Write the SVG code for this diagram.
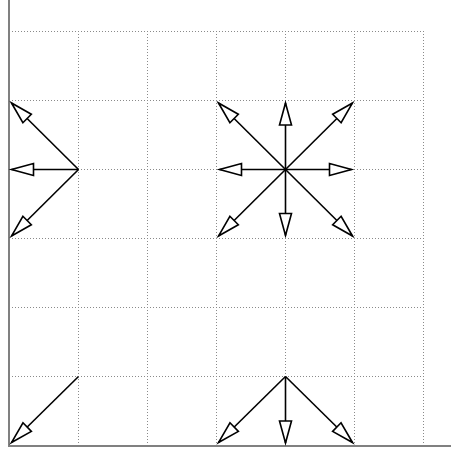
<svg xmlns="http://www.w3.org/2000/svg" width="451" height="452" viewBox="0 0 451 452">
<style>
.grid{stroke:#8a8a8a;stroke-width:1;stroke-dasharray:1 2;fill:none}
.axis{stroke:#808080;stroke-width:2;fill:none}
.arr{stroke:#000;stroke-width:1.6;fill:none;marker-end:url(#head)}
</style>
<defs>
<marker id="head" markerUnits="userSpaceOnUse" viewBox="-24 -8 26 16" refX="0" refY="0" markerWidth="26" markerHeight="16" orient="auto" overflow="visible">
<path d="M0,0 L-22,-6 L-22,6 Z" fill="#fff" stroke="#000" stroke-width="1.6" stroke-linejoin="miter"/>
</marker>
</defs>
<rect width="451" height="452" fill="#fff"/>
<g id="grid">
<path class="grid" d="M9,31.5H423.5M9,100.5H423.5M9,169.5H423.5M9,238.5H423.5M9,307.5H423.5M9,376.5H423.5"/>
<path class="grid" d="M78.5,31V445M147.5,31V445M216.5,31V445M285.5,31V445M354.5,31V445M423.5,31V445"/>
</g>
<g id="axes">
<path class="axis" d="M9,0V446H451"/>
</g>
<g id="connectors">
<path class="arr" d="M78.5,169.5L11.5,103"/>
<path class="arr" d="M78.5,169.5L11.5,169.5"/>
<path class="arr" d="M78.5,169.5L11.5,236"/>
<path class="arr" d="M285.5,169.5L218.5,103"/>
<path class="arr" d="M285.5,169.5L285.5,103"/>
<path class="arr" d="M285.5,169.5L352.5,103"/>
<path class="arr" d="M285.5,169.5L219.5,169.5"/>
<path class="arr" d="M285.5,169.5L351.5,169.5"/>
<path class="arr" d="M285.5,169.5L218.5,236"/>
<path class="arr" d="M285.5,169.5L285.5,235.5"/>
<path class="arr" d="M285.5,169.5L352.5,236"/>
<path class="arr" d="M78.5,376.5L11.5,442.5"/>
<path class="arr" d="M285.5,376.5L218.5,442.5"/>
<path class="arr" d="M285.5,376.5L285.5,443"/>
<path class="arr" d="M285.5,376.5L352.5,442.5"/>
</g>
</svg>
